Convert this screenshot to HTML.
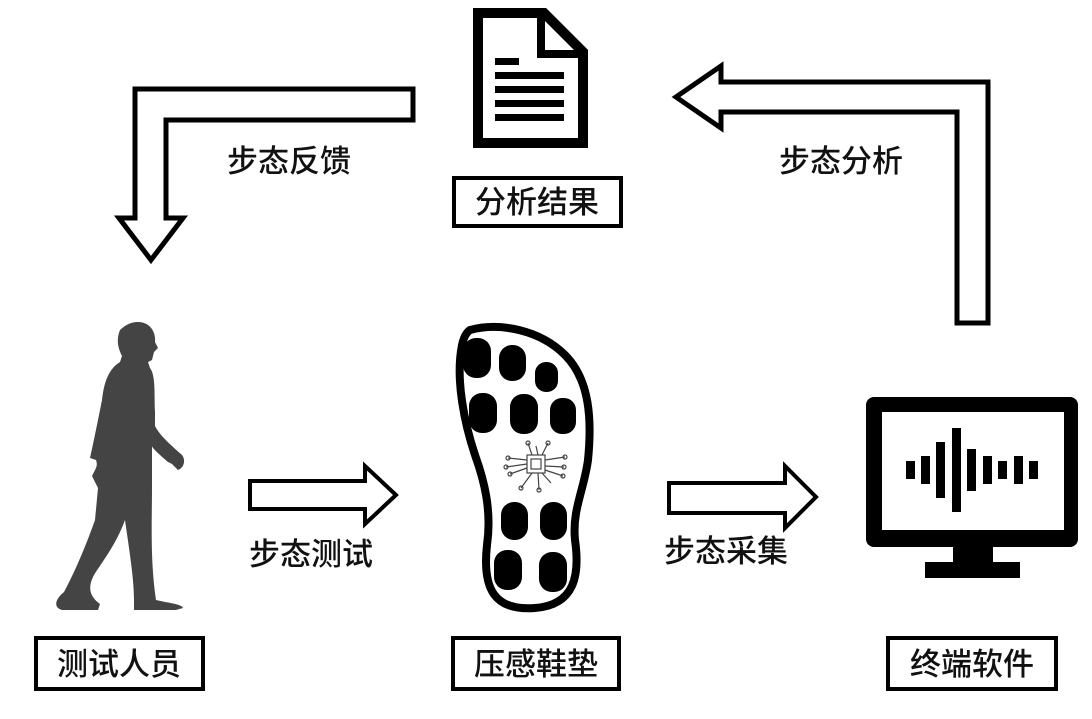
<!DOCTYPE html>
<html><head><meta charset="utf-8"><style>
html,body{margin:0;padding:0;background:#fff;}
svg{display:block;}
text{font-family:"Noto Sans CJK SC","Liberation Sans",sans-serif;font-weight:500;fill:#111;}
</style></head><body>
<svg width="1092" height="719" viewBox="0 0 1092 719" xmlns="http://www.w3.org/2000/svg">
<polygon points="413,89 413,120 166,120 166,218 183,218 151,260 119,218 135,218 135,89" fill="#fff" stroke="#000" stroke-width="5" stroke-linejoin="miter"/>
<text x="227" y="172" font-size="31">步态反馈</text>
<polygon points="988,82 988,323 957,323 957,112 721,112 721,128 676,97 721,66 721,82" fill="#fff" stroke="#000" stroke-width="5"/>
<text x="779" y="172" font-size="31">步态分析</text>
<path d="M478,13 L544,13 L583,52 L583,143 L478,143 Z" fill="#fff" stroke="#000" stroke-width="10" stroke-linejoin="miter"/>
<path d="M541,13 L541,54 L583,54" fill="none" stroke="#000" stroke-width="8"/>
<rect x="495" y="58" width="24" height="7" fill="#000"/>
<rect x="495" y="72" width="69" height="7" fill="#000"/>
<rect x="495" y="86" width="69" height="7" fill="#000"/>
<rect x="495" y="100" width="69" height="7" fill="#000"/>
<rect x="495" y="114" width="69" height="7" fill="#000"/>
<rect x="454" y="178" width="167" height="48" fill="#fff" stroke="#000" stroke-width="4"/>
<text x="537" y="213" font-size="31" text-anchor="middle">分析结果</text>
<path fill="#444" d="M138,322 C150,322 156,332 155,342 L158,348 L154,352 L152,360 L148,362 L150,368 C156,376 154,395 155,412 L155,426 C160,436 172,446 182,455 C186,460 184,468 178,470 L172,464 L168,462 C160,455 152,448 152,446 L152,488 C152,520 150,560 156,600 C168,603 182,604 183,608 L176,610 L134,610 L134,600 C134,580 130,555 125,520 C116,545 100,565 94,575 C86,590 92,598 100,604 L98,610 L62,610 C54,608 54,600 64,592 C76,570 88,540 95,520 L98,488 L92,476 C96,468 98,466 96,460 L90,458 C94,440 98,420 102,400 C104,380 110,368 120,362 L122,356 C118,348 116,340 120,330 C126,324 132,322 138,322 Z"/>
<polygon points="250,481 365,481 365,466 396,495 365,524 365,509 250,509" fill="#fff" stroke="#000" stroke-width="4"/>
<text x="249" y="565" font-size="31">步态测试</text>
<polygon points="669,483 785,483 785,466 816,497 785,528 785,513 669,513" fill="#fff" stroke="#000" stroke-width="4"/>
<text x="664" y="562" font-size="31">步态采集</text>
<path d="M470,330 C500,322 540,330 565,355 C590,380 592,420 588,460 C584,490 572,510 575,540 C580,575 575,605 535,608 C495,611 482,590 487,545 C492,510 484,480 475,455 C465,425 455,380 462,345 C464,336 467,332 470,330 Z" fill="#fff" stroke="#000" stroke-width="8"/>
<g fill="#000">
<rect x="463" y="338" width="28" height="40" rx="13"/>
<rect x="499" y="345" width="27" height="36" rx="13"/>
<rect x="535" y="362" width="23" height="30" rx="11"/>
<rect x="469" y="393" width="28" height="40" rx="13"/>
<rect x="510" y="394" width="28" height="40" rx="13"/>
<rect x="550" y="398" width="26" height="36" rx="12"/>
<rect x="501" y="502" width="27" height="38" rx="13"/>
<rect x="540" y="502" width="27" height="38" rx="13"/>
<rect x="494" y="550" width="28" height="40" rx="13"/>
<rect x="539" y="552" width="28" height="40" rx="13"/>
</g>
<g stroke="#444" stroke-width="1.2" fill="none">
<rect x="527" y="455" width="18" height="18"/>
<rect x="531" y="459" width="10" height="10"/>
<path d="M527,460 L508,458 M527,464 L506,467 M527,468 L510,474 M545,460 L565,457 M545,466 L564,467 M545,470 L563,476 M532,455 L528,443 M538,455 L536,446 M542,455 L548,443 M532,473 L521,488 M538,473 L539,490 M542,473 L551,483"/>
<circle cx="508" cy="458" r="2"/><circle cx="506" cy="467" r="2"/><circle cx="510" cy="474" r="2"/>
<circle cx="565" cy="457" r="2"/><circle cx="564" cy="467" r="2"/><circle cx="563" cy="476" r="2"/>
<circle cx="528" cy="443" r="2"/><circle cx="548" cy="443" r="2"/><circle cx="521" cy="488" r="2"/><circle cx="539" cy="490" r="2"/>
</g>
<rect x="866" y="397" width="212" height="150" rx="8" fill="#000"/>
<rect x="882" y="412" width="182" height="118" fill="#fff"/>
<rect x="953" y="546" width="40" height="18" fill="#000"/>
<rect x="925" y="562" width="95" height="16" fill="#000"/>
<g fill="#000">
<rect x="906" y="461" width="9" height="18"/>
<rect x="921" y="456" width="9" height="28"/>
<rect x="936" y="442" width="9" height="56"/>
<rect x="952" y="428" width="9" height="84"/>
<rect x="967" y="449" width="9" height="42"/>
<rect x="983" y="456" width="9" height="28"/>
<rect x="998" y="461" width="9" height="18"/>
<rect x="1014" y="456" width="9" height="28"/>
<rect x="1029" y="461" width="9" height="18"/>
</g>
<rect x="36" y="638" width="167" height="51" fill="#fff" stroke="#000" stroke-width="4"/>
<text x="119" y="675" font-size="31" text-anchor="middle">测试人员</text>
<rect x="453" y="638" width="166" height="51" fill="#fff" stroke="#000" stroke-width="4"/>
<text x="536" y="675" font-size="31" text-anchor="middle">压感鞋垫</text>
<rect x="888" y="638" width="168" height="51" fill="#fff" stroke="#000" stroke-width="4"/>
<text x="972" y="675" font-size="31" text-anchor="middle">终端软件</text>
</svg>
</body></html>
